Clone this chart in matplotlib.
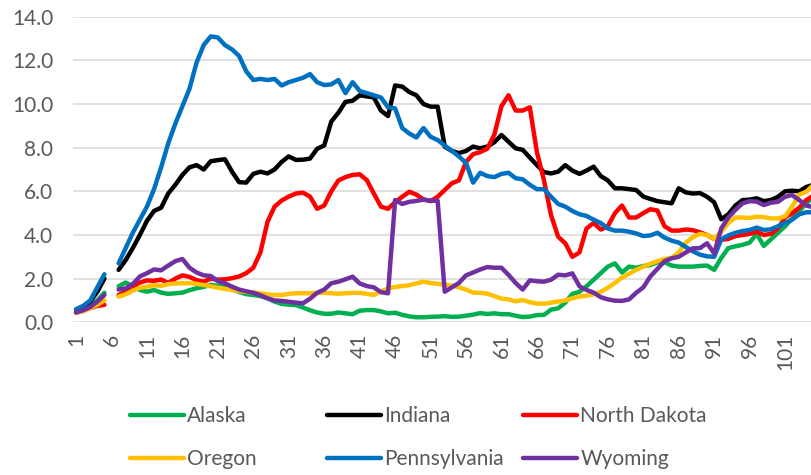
import numpy as np
import matplotlib
matplotlib.use("Agg")
import matplotlib.pyplot as plt

plt.rcParams['font.family'] = ['Lato', 'DejaVu Sans']

# x categories 1..105, point 6 is blank in every series
periods = np.arange(1, 106)
nan = np.nan

alaska = [0.45, 0.6, 0.8, 1.0, 1.35, nan, 1.65, 1.82, 1.65, 1.48,
          1.4, 1.48, 1.36, 1.3, 1.33, 1.36, 1.47, 1.56, 1.62, 1.72,
          1.66, 1.63, 1.51, 1.39, 1.29, 1.25, 1.2, 1.1, 0.95, 0.84,
          0.81, 0.79, 0.68, 0.55, 0.45, 0.39, 0.39, 0.45, 0.41, 0.37,
          0.53, 0.56, 0.56, 0.5, 0.41, 0.44, 0.34, 0.27, 0.23, 0.23,
          0.25, 0.26, 0.28, 0.25, 0.26, 0.3, 0.35, 0.42, 0.38, 0.41,
          0.37, 0.37, 0.3, 0.24, 0.26, 0.33, 0.34, 0.58, 0.64, 0.9,
          1.3, 1.4, 1.65, 1.95, 2.25, 2.55, 2.7, 2.28, 2.55, 2.5,
          2.58, 2.62, 2.75, 2.75, 2.6, 2.55, 2.55, 2.55, 2.58, 2.6,
          2.4, 2.95, 3.4, 3.48, 3.55, 3.65, 4.05, 3.5, 3.8, 4.1,
          4.4, 4.75, 5.1, 5.45, 5.75]

indiana = [0.5, 0.7, 0.95, 1.4, 2.0, nan, 2.4, 2.85, 3.4, 4.0,
           4.65, 5.1, 5.25, 5.9, 6.3, 6.75, 7.1, 7.2, 7.0, 7.38,
           7.43, 7.47, 6.9, 6.42, 6.4, 6.8, 6.9, 6.82, 7.0, 7.35,
           7.6, 7.44, 7.45, 7.5, 7.95, 8.1, 9.2, 9.6, 10.1, 10.15,
           10.4, 10.35, 10.3, 9.7, 9.45, 10.85, 10.8, 10.55, 10.4, 10.0,
           9.88, 9.88, 8.05, 7.85, 7.75, 7.85, 8.05, 7.97, 8.05, 8.25,
           8.58, 8.27, 7.97, 7.9, 7.55, 7.2, 6.88, 6.82, 6.9, 7.2,
           6.95, 6.8, 6.95, 7.13, 6.7, 6.5, 6.14, 6.14, 6.1, 6.06,
           5.76, 5.65, 5.55, 5.5, 5.45, 6.14, 5.95, 5.9, 5.92, 5.75,
           5.5, 4.72, 4.95, 5.35, 5.6, 5.62, 5.68, 5.55, 5.6, 5.75,
           6.0, 6.03, 6.0, 6.2, 6.3]

north_dakota = [0.45, 0.55, 0.65, 0.75, 0.8, nan, 1.25, 1.4, 1.65, 1.82,
                1.92, 1.9, 1.96, 1.8, 2.0, 2.15, 2.08, 1.93, 1.86, 2.0,
                1.95, 1.97, 2.02, 2.1, 2.25, 2.5, 3.2, 4.6, 5.3, 5.58,
                5.76, 5.9, 5.94, 5.76, 5.2, 5.35, 6.0, 6.5, 6.65, 6.75,
                6.78, 6.52, 5.9, 5.3, 5.2, 5.5, 5.75, 5.98, 5.85, 5.63,
                5.55, 5.75, 6.06, 6.37, 6.5, 7.35, 7.7, 7.8, 7.95, 8.6,
                9.9, 10.4, 9.7, 9.7, 9.85, 7.8, 6.5, 4.9, 3.92, 3.62,
                3.0, 3.2, 4.3, 4.55, 4.25, 4.4, 5.0, 5.35, 4.8, 4.8,
                5.0, 5.18, 5.12, 4.4, 4.2, 4.2, 4.25, 4.22, 4.12, 4.0,
                3.82, 3.78, 3.82, 3.95, 4.0, 4.05, 4.15, 4.0, 4.05, 4.3,
                4.8, 5.0, 5.25, 5.6, 5.8]

oregon = [0.45, 0.5, 0.65, 0.8, 1.0, nan, 1.18, 1.28, 1.45, 1.58,
          1.63, 1.7, 1.67, 1.75, 1.78, 1.79, 1.79, 1.76, 1.71, 1.65,
          1.58, 1.53, 1.48, 1.43, 1.39, 1.37, 1.33, 1.28, 1.25, 1.25,
          1.3, 1.33, 1.33, 1.33, 1.35, 1.35, 1.33, 1.31, 1.33, 1.35,
          1.35, 1.3, 1.25, 1.42, 1.55, 1.62, 1.66, 1.7, 1.78, 1.86,
          1.8, 1.76, 1.72, 1.68, 1.6, 1.5, 1.36, 1.35, 1.31, 1.2,
          1.08, 1.05, 0.96, 1.02, 0.92, 0.86, 0.85, 0.9, 0.95, 1.0,
          1.1, 1.18, 1.22, 1.28, 1.4, 1.58, 1.8, 2.05, 2.22, 2.4,
          2.55, 2.68, 2.8, 2.9, 2.95, 3.2, 3.65, 3.9, 4.05, 4.0,
          3.82, 4.15, 4.55, 4.8, 4.8, 4.78, 4.84, 4.82, 4.76, 4.76,
          4.85, 5.3, 5.85, 5.98, 6.3]

pennsylvania = [0.6, 0.75, 1.0, 1.6, 2.2, nan, 2.7, 3.4, 4.1, 4.7,
                5.3, 6.1, 7.1, 8.2, 9.1, 9.9, 10.7, 11.9, 12.7, 13.1,
                13.05, 12.7, 12.5, 12.2, 11.5, 11.1, 11.15, 11.1, 11.15, 10.85,
                11.0, 11.1, 11.2, 11.37, 11.0, 10.87, 10.9, 11.1, 10.5, 11.0,
                10.6, 10.5, 10.4, 10.3, 9.85, 9.8, 8.9, 8.65, 8.47, 8.9,
                8.5, 8.35, 8.1, 7.85, 7.6, 7.3, 6.4, 6.85, 6.7, 6.65,
                6.8, 6.85, 6.6, 6.55, 6.3, 6.1, 6.1, 5.75, 5.42, 5.3,
                5.1, 4.95, 4.87, 4.7, 4.55, 4.3, 4.2, 4.2, 4.15, 4.07,
                3.95, 3.98, 4.1, 3.88, 3.74, 3.65, 3.45, 3.25, 3.1, 3.02,
                3.0, 3.8, 3.98, 4.1, 4.18, 4.23, 4.34, 4.23, 4.26, 4.4,
                4.55, 4.7, 4.95, 5.04, 5.04]

wyoming = [0.45, 0.55, 0.7, 0.95, 1.25, nan, 1.5, 1.55, 1.75, 2.1,
           2.25, 2.42, 2.38, 2.6, 2.8, 2.9, 2.5, 2.28, 2.15, 2.12,
           1.88, 1.79, 1.63, 1.5, 1.42, 1.35, 1.24, 1.1, 1.0, 0.98,
           0.94, 0.9, 0.87, 1.08, 1.35, 1.5, 1.79, 1.86, 1.97, 2.09,
           1.78, 1.66, 1.6, 1.38, 1.33, 5.6, 5.42, 5.52, 5.56, 5.62,
           5.57, 5.57, 1.4, 1.6, 1.8, 2.15, 2.28, 2.42, 2.53, 2.5,
           2.5, 2.17, 1.8, 1.5, 1.92, 1.88, 1.86, 1.95, 2.18, 2.15,
           2.24, 1.65, 1.48, 1.36, 1.15, 1.05, 0.99, 0.98, 1.05, 1.35,
           1.6, 2.1, 2.45, 2.8, 2.93, 3.0, 3.2, 3.39, 3.4, 3.62,
           3.16, 4.3, 4.8, 5.15, 5.45, 5.55, 5.53, 5.37, 5.48, 5.52,
           5.75, 5.83, 5.6, 5.35, 5.27]

names = ['Alaska', 'Indiana', 'North Dakota', 'Oregon', 'Pennsylvania', 'Wyoming']
colors = ['#00B050', '#000000', '#FF0000', '#FFC000', '#0070C0', '#7030A0']
series = [alaska, indiana, north_dakota, oregon, pennsylvania, wyoming]

fig = plt.figure(figsize=(8.12, 4.75), dpi=100)
ax = fig.add_axes([0.0893, 0.3215, 0.9107, 0.6433])

lines = []
for name, color, vals in zip(names, colors, series):
    ln, = ax.plot(periods, np.array(vals, dtype=float), color=color, lw=3.2,
                  solid_capstyle='round', solid_joinstyle='round', label=name)
    lines.append(ln)

ax.set_xlim(0.5, 104.8)
ax.set_ylim(0, 14)
ax.set_yticks(np.arange(0, 15, 2))
ax.set_yticklabels(['%.1f' % v for v in np.arange(0, 15, 2)])
ax.set_xticks(periods[::5])
ax.set_xticklabels([str(p) for p in periods[::5]], rotation=90)
ax.tick_params(axis='y', length=0, pad=14, labelsize=15, labelcolor='#595959')
ax.tick_params(axis='x', length=0, pad=8, labelsize=15, labelcolor='#595959')
ax.grid(axis='y', color='#D9D9D9', lw=1.1)
ax.set_axisbelow(True)
for s in ax.spines.values():
    s.set_visible(False)

# Excel-style legend: fixed grid, three columns of two entries
col_x = [130 / 812, 327 / 812, 523 / 812]
for k in range(3):
    leg = fig.legend([lines[k], lines[k + 3]], [names[k], names[k + 3]],
                     loc='upper left', bbox_to_anchor=(col_x[k], 1 - 406 / 475),
                     frameon=False, fontsize=15, handlelength=2.6,
                     handletextpad=0.15, labelspacing=1.1, borderpad=0,
                     borderaxespad=0, labelcolor='#595959')

plt.savefig('out.png', dpi=100)
